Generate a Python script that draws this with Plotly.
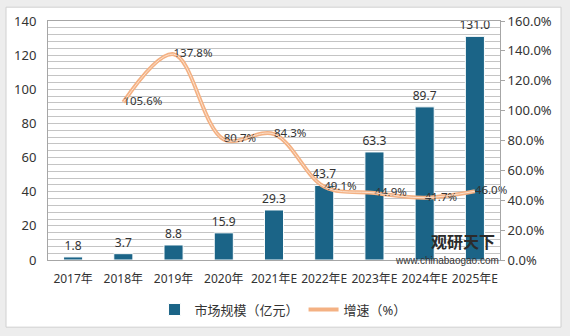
import plotly.graph_objects as go

categories = ["2017年", "2018年", "2019年", "2020年", "2021年E", "2022年E", "2023年E", "2024年E", "2025年E"]
market_size = [1.8, 3.7, 8.8, 15.9, 29.3, 43.7, 63.3, 89.7, 131.0]
growth_cats = categories[1:]
growth_rate = [105.6, 137.8, 80.7, 84.3, 49.1, 44.9, 41.7, 46.0]

FONT = "Noto Sans, Noto Sans CJK SC, sans-serif"
BAR_COLOR = "#1B6487"
LINE_COLOR = "#F4B183"

fig = go.Figure()
fig.add_trace(go.Bar(
    x=categories, y=market_size, name="市场规模（亿元）",
    marker=dict(color=BAR_COLOR, line=dict(color="white", width=1)),
    width=0.38,
    text=[f"{v:.1f}" for v in market_size], textposition="outside",
    constraintext="none",
    textfont=dict(size=12, color="#333333", family=FONT),
    cliponaxis=False,
))
fig.add_trace(go.Scatter(
    x=growth_cats, y=growth_rate, yaxis="y2", name="增速（%）",
    mode="lines+text", line=dict(color=LINE_COLOR, width=4, shape="spline", smoothing=1.0),
    text=[f"{v:.1f}%" for v in growth_rate], textposition="middle right",
    textfont=dict(size=11.5, color="#333333", family=FONT),
    cliponaxis=False,
))
fig.add_trace(go.Scatter(
    x=growth_cats, y=growth_rate, yaxis="y2", showlegend=False, hoverinfo="skip",
    mode="lines", line=dict(color="#FBE1CE", width=1, shape="spline", smoothing=1.0),
))

fig.update_layout(
    width=570, height=336,
    margin=dict(l=48, r=70, t=19, b=75),
    paper_bgcolor="#EDEDED",
    plot_bgcolor="#EBF1F7",
    font=dict(family=FONT, size=12, color="#333333"),
    showlegend=True,
    legend=dict(orientation="h", x=0.52, xanchor="center", y=-(296 - 261) / 242, yanchor="top",
                bgcolor="white", font=dict(size=13, color="#333333", family=FONT),
                itemwidth=30, traceorder="normal"),
    xaxis=dict(
        type="category", showgrid=False, showline=True, linecolor="#A6A6A6", linewidth=1,
        mirror=True, ticks="", tickfont=dict(size=12, color="#333333"), ticklabelstandoff=8,
    ),
    yaxis=dict(
        range=[0, 140], dtick=20, showgrid=True, gridcolor="#C4C4C4", gridwidth=1,
        minor=dict(dtick=4, showgrid=True, gridcolor="#C4C4C4", gridwidth=1),
        showline=True, linecolor="#A6A6A6", zeroline=False, ticks="",
        tickfont=dict(size=13, color="#333333"), ticklabelstandoff=8,
    ),
    yaxis2=dict(
        overlaying="y", side="right", range=[0, 160], dtick=20,
        tickformat=".1f", ticksuffix="%", showgrid=False, zeroline=False,
        showline=True, linecolor="#A6A6A6", ticks="outside", ticklen=4, tickcolor="#A6A6A6",
        tickfont=dict(size=13, color="#333333"),
    ),
    shapes=[
        dict(type="rect", xref="paper", yref="paper", layer="below",
             x0=-42/452, x1=(561-48)/452, y0=-(329-261)/242, y1=1+(19-5)/242,
             fillcolor="white", line=dict(color="#D0D0D0", width=1)),
    ],
    annotations=[
        dict(text="<b>观研天下</b>", xref="paper", yref="paper", x=(463-48)/452, y=(261-242)/242,
             xanchor="center", yanchor="middle",
             showarrow=False, font=dict(size=16, color="#2B2B2B", family="Noto Sans CJK SC")),
        dict(text="www.chinabaogao.com", xref="paper", yref="paper", x=(447-48)/452, y=(261-262)/242,
             xanchor="center", yanchor="middle",
             showarrow=False, font=dict(size=10, color="#333333", family="Liberation Sans")),
    ],
)

fig.write_html("out.html")
